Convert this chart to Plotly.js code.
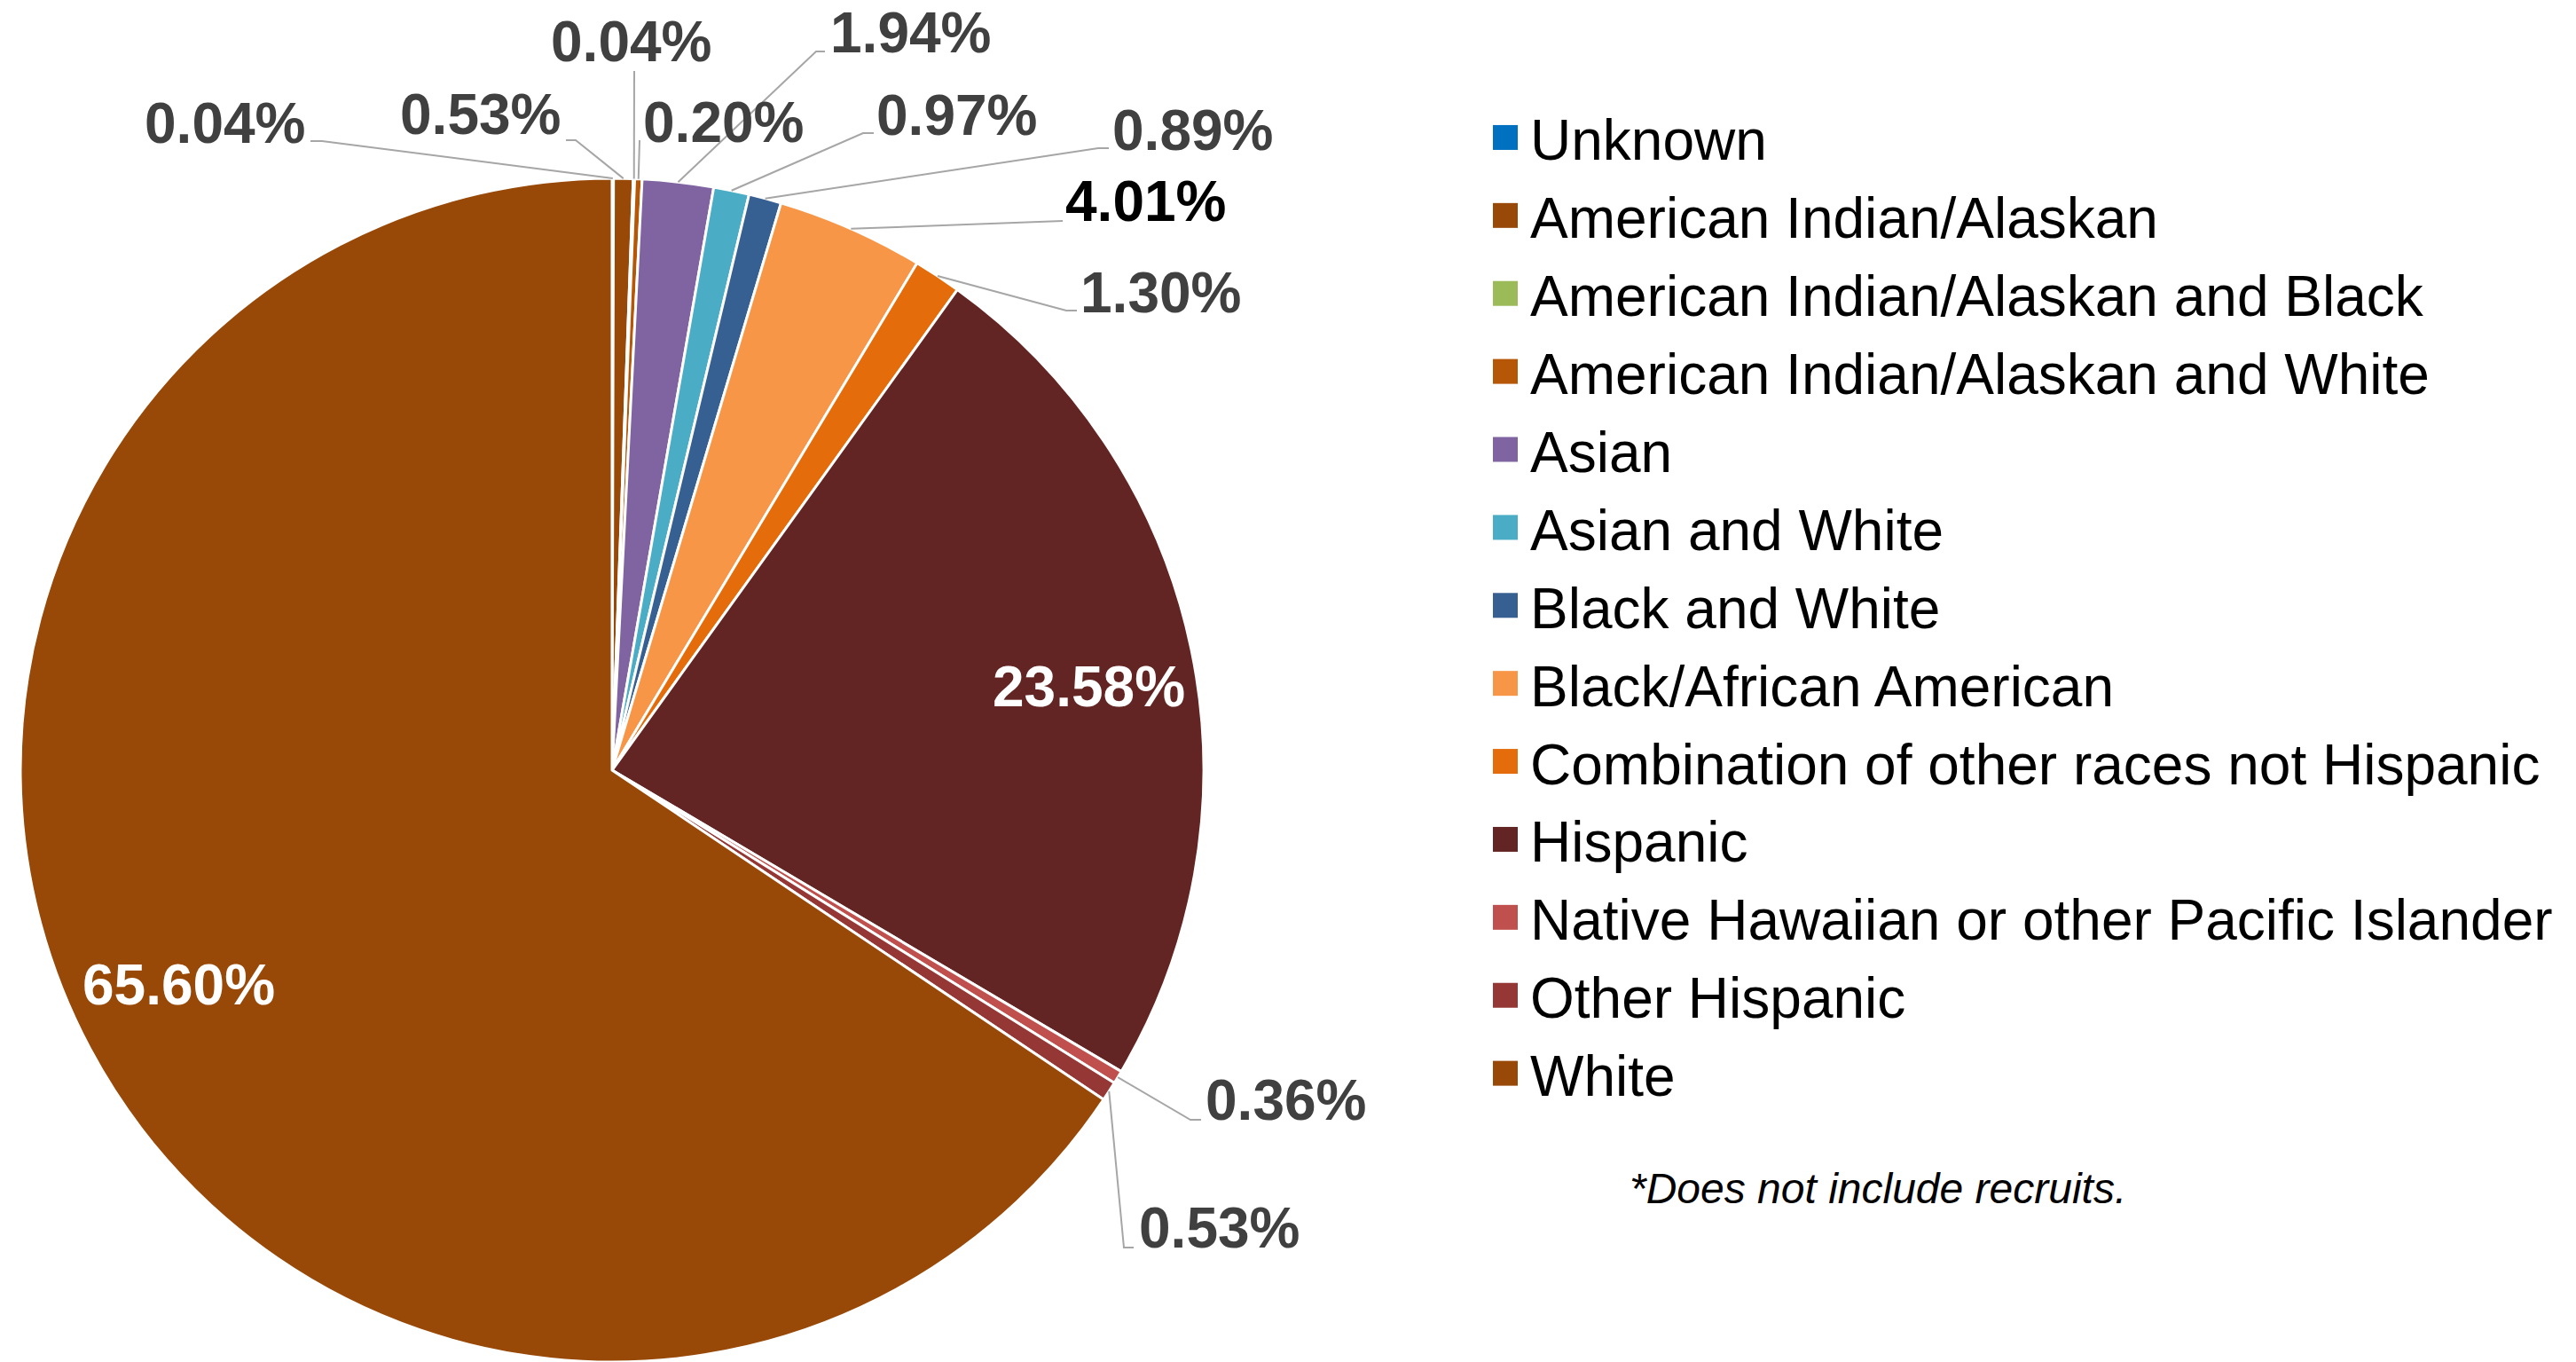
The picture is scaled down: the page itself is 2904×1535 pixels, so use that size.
<!DOCTYPE html>
<html>
<head>
<meta charset="utf-8">
<script src="https://cdn.plot.ly/plotly-3.0.1.min.js"></script>
<style>
html, body { margin: 0; padding: 0; background: #ffffff; }
#chart { width: 2904px; height: 1535px; }
</style>
</head>
<body>
<div id="chart"></div>
<script>
// ---------------- data ----------------
const categories = [
  'Unknown',
  'American Indian/Alaskan',
  'American Indian/Alaskan and Black',
  'American Indian/Alaskan and White',
  'Asian',
  'Asian and White',
  'Black and White',
  'Black/African American',
  'Combination of other races not Hispanic',
  'Hispanic',
  'Native Hawaiian or other Pacific Islander',
  'Other Hispanic',
  'White'
];
const shares = [0.04, 0.53, 0.04, 0.20, 1.94, 0.97, 0.89, 4.01, 1.30, 23.58, 0.36, 0.53, 65.60];
const footnote = '*Does not include recruits.';

// ---------------- styles ----------------
const sliceColors = [
  '#0070C0', '#984807', '#9BBB59', '#B65708', '#8064A2', '#4BACC6', '#376092',
  '#F79646', '#E46C0A', '#632523', '#C0504D', '#953735', '#984807'
];
const FONT = "Arial, 'Liberation Sans', sans-serif";
const LEGEND_TEXT_SIZE = 64;   // glyph size of legend entries
const LEGEND_ROW_SIZE = 65.3;  // drives legend row pitch

// ---------------- layout geometry (pixels) ----------------
const W = 2904, H = 1535;
const PIE = { cx: 690, cy: 868, r: 667 };
// label text centre; outside labels also carry the elbow points of their leader line
const labelPlacement = [
  { pos: [253, 139], elbow: [[350, 159], [363, 159]], color: '#404040' },
  { pos: [541, 129], elbow: [[638, 158], [649, 158]], color: '#404040' },
  { pos: [711, 47],  elbow: [[715, 80]], color: '#404040' },
  { pos: [815, 138], elbow: [[721, 158]], color: '#404040' },
  { pos: [1026, 37], elbow: [[930, 58], [920, 58]], color: '#404040' },
  { pos: [1078, 130], elbow: [[985, 150], [973, 150]], color: '#404040' },
  { pos: [1344, 147], elbow: [[1250, 167], [1238, 167]], color: '#404040' },
  { pos: [1291, 227], elbow: [[1198, 249]], color: '#000000' },
  { pos: [1308, 330], elbow: [[1214, 350], [1202, 350]], color: '#404040' },
  { pos: [1227, 774], elbow: null, color: '#FFFFFF' },
  { pos: [1449, 1240], elbow: [[1354, 1262], [1342, 1262]], color: '#404040' },
  { pos: [1374, 1384], elbow: [[1278, 1406], [1267, 1406]], color: '#404040' },
  { pos: [201, 1110], elbow: null, color: '#FFFFFF' }
];

const px2x = p => p / W;
const px2y = p => 1 - p / H;

// slice mid-angles from the data (leader lines end on the slice edge)
const total = shares.reduce((a, b) => a + b, 0);
let cum = 0;
const midAngles = shares.map(v => {
  const m = (cum + v / 2) / total * 2 * Math.PI;
  cum += v;
  return m;
});
const edgePoint = ang => [PIE.cx + PIE.r * Math.sin(ang), PIE.cy - PIE.r * Math.cos(ang)];

const annotations = [];
const shapes = [];
shares.forEach((v, i) => {
  const place = labelPlacement[i];
  annotations.push({
    xref: 'paper', yref: 'paper', x: px2x(place.pos[0]), y: px2y(place.pos[1]),
    xanchor: 'center', yanchor: 'middle', showarrow: false,
    text: '<b>' + v.toFixed(2) + '%</b>',
    font: { family: FONT, size: 64, color: place.color }
  });
  if (place.elbow) {
    const pts = place.elbow.concat([edgePoint(midAngles[i])]);
    const d = pts.map((p, k) => (k === 0 ? 'M' : 'L') + px2x(p[0]).toFixed(6) + ',' + px2y(p[1]).toFixed(6)).join(' ');
    shapes.push({ type: 'path', xref: 'paper', yref: 'paper', path: d, line: { color: '#A6A6A6', width: 2 }, layer: 'above' });
  }
});

annotations.push({
  xref: 'paper', yref: 'paper', x: px2x(2117), y: px2y(1339),
  xanchor: 'center', yanchor: 'middle', showarrow: false, text: '<i>' + footnote + '</i>',
  font: { family: FONT, size: 48, color: '#000000' }
});

const trace = {
  type: 'pie',
  labels: categories.map(c => '<span style="font-size:' + LEGEND_TEXT_SIZE + 'px">' + c + '</span>'),
  values: shares,
  sort: false,
  direction: 'clockwise',
  rotation: 0,
  textinfo: 'none',
  hoverinfo: 'label+value',
  marker: { colors: sliceColors, line: { color: '#FFFFFF', width: 3 } },
  domain: {
    x: [px2x(PIE.cx - PIE.r), px2x(PIE.cx + PIE.r)],
    y: [(H - PIE.cy - PIE.r) / H, (H - PIE.cy + PIE.r) / H]
  }
};

const layout = {
  width: W, height: H,
  margin: { l: 0, r: 0, t: 0, b: 0, pad: 0 },
  paper_bgcolor: '#FFFFFF',
  plot_bgcolor: '#FFFFFF',
  font: { family: FONT },
  showlegend: true,
  legend: {
    x: px2x(1669), xanchor: 'left',
    y: px2y(106), yanchor: 'top',
    font: { family: FONT, size: LEGEND_ROW_SIZE, color: '#000000' },
    itemwidth: 46,
    bgcolor: 'rgba(0,0,0,0)', borderwidth: 0,
    itemclick: false, itemdoubleclick: false
  },
  annotations: annotations,
  shapes: shapes
};

const gd = document.getElementById('chart');
function enlargeLegendSymbols() {
  gd.querySelectorAll('.legend path.legendpie').forEach(p => {
    p.setAttribute('d', 'M14,14H-14V-14H14Z');
    p.style.strokeWidth = '0px';
  });
}
Plotly.newPlot(gd, [trace], layout, { displayModeBar: false, responsive: false })
  .then(() => {
    enlargeLegendSymbols();
    gd.on('plotly_afterplot', enlargeLegendSymbols);
  });
</script>
</body>
</html>
